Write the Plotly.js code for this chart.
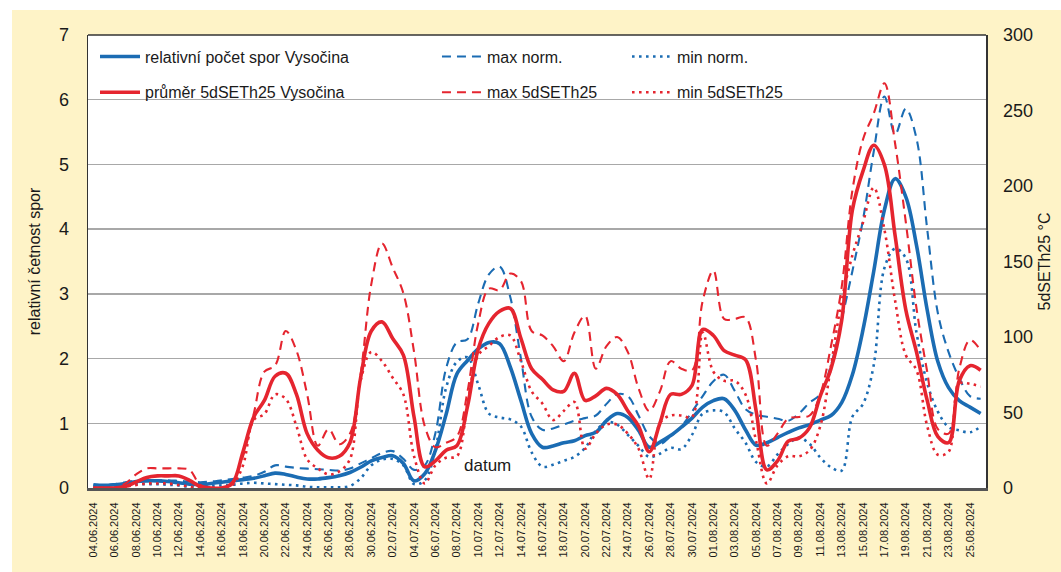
<!DOCTYPE html>
<html>
<head>
<meta charset="utf-8">
<script src="https://cdn.plot.ly/plotly-3.0.1.min.js"></script>
<style>
  html, body { margin: 0; padding: 0; background: #ffffff; }
  #chart { position: absolute; left: 12px; top: 10px; width: 1049px; height: 562px; }
</style>
</head>
<body>
<div id="chart"></div>
<script>
// Category axis: days
const dates = [
 "04.06.2024","05.06.2024","06.06.2024","07.06.2024","08.06.2024","09.06.2024","10.06.2024","11.06.2024","12.06.2024","13.06.2024",
 "14.06.2024","15.06.2024","16.06.2024","17.06.2024","18.06.2024","19.06.2024","20.06.2024","21.06.2024","22.06.2024","23.06.2024",
 "24.06.2024","25.06.2024","26.06.2024","27.06.2024","28.06.2024","29.06.2024","30.06.2024","01.07.2024","02.07.2024","03.07.2024",
 "04.07.2024","05.07.2024","06.07.2024","07.07.2024","08.07.2024","09.07.2024","10.07.2024","11.07.2024","12.07.2024","13.07.2024",
 "14.07.2024","15.07.2024","16.07.2024","17.07.2024","18.07.2024","19.07.2024","20.07.2024","21.07.2024","22.07.2024","23.07.2024",
 "24.07.2024","25.07.2024","26.07.2024","27.07.2024","28.07.2024","29.07.2024","30.07.2024","31.07.2024","01.08.2024","02.08.2024",
 "03.08.2024","04.08.2024","05.08.2024","06.08.2024","07.08.2024","08.08.2024","09.08.2024","10.08.2024","11.08.2024","12.08.2024",
 "13.08.2024","14.08.2024","15.08.2024","16.08.2024","17.08.2024","18.08.2024","19.08.2024","20.08.2024","21.08.2024","22.08.2024",
 "23.08.2024","24.08.2024","25.08.2024","26.08.2024"
];
const tickDates = dates.filter((d, i) => i % 2 === 0);

// Left axis: relative spore counts
const relPocetSpor = [
 0.05,0.04,0.05,0.07,0.10,0.11,0.11,0.10,0.08,0.06,0.05,0.07,0.09,0.11,0.13,0.15,0.19,0.23,0.21,0.17,0.14,0.14,0.16,0.19,0.24,0.32,0.42,0.47,0.50,0.38,
 0.11,0.22,0.58,1.14,1.76,1.97,2.15,2.25,2.23,1.87,1.35,0.84,0.63,0.65,0.70,0.73,0.81,0.86,1.04,1.15,1.09,0.89,0.63,0.71,0.81,0.94,1.08,1.25,1.35,1.38,
 1.20,0.90,0.66,0.70,0.78,0.86,0.93,0.98,1.05,1.12,1.32,1.75,2.45,3.35,4.30,4.78,4.50,3.75,2.75,1.95,1.55,1.35,1.25,1.15
];
const maxNorm = [
 0.04,0.04,0.06,0.09,0.11,0.12,0.12,0.12,0.11,0.10,0.09,0.10,0.12,0.14,0.16,0.19,0.25,0.35,0.33,0.31,0.30,0.29,0.28,0.27,0.30,0.38,0.46,0.54,0.57,0.45,
 0.28,0.35,0.85,1.85,2.25,2.30,2.85,3.30,3.42,2.95,2.00,1.10,0.90,0.92,0.98,1.04,1.08,1.12,1.30,1.45,1.42,1.12,0.80,0.68,0.80,0.95,1.18,1.42,1.65,1.75,
 1.50,1.22,1.13,1.10,1.07,1.04,1.15,1.32,1.45,1.90,2.60,3.35,4.15,5.20,6.05,5.47,5.86,5.40,4.00,2.70,2.10,1.70,1.42,1.38
];
const minNorm = [
 0.02,0.02,0.03,0.05,0.06,0.06,0.06,0.05,0.04,0.02,0.02,0.03,0.04,0.05,0.07,0.08,0.07,0.06,0.05,0.04,0.02,0.01,0.01,0.01,0.03,0.15,0.35,0.44,0.45,0.35,
 0.06,0.12,0.60,1.55,1.95,2.02,1.60,1.15,1.09,1.06,0.95,0.55,0.33,0.36,0.42,0.48,0.62,0.88,1.02,0.98,0.82,0.65,0.48,0.53,0.62,0.60,0.82,1.15,1.20,1.17,
 0.92,0.70,0.40,0.33,0.52,0.68,0.78,0.68,0.47,0.32,0.27,1.10,1.30,1.90,3.40,3.70,3.55,2.40,1.62,1.18,0.94,0.89,0.86,0.95
];

// Right axis: 5dSETh25 (°C)
const prumer5d = [
 0,0,0,1,4,7,8,8,8,5,1,0,0,3,24,47,58,74,76,62,36,25,20,21,30,73,104,110,99,88,
 47,14,18,25,28,54,92,109,117,119,99,79,72,65,64,76,58,61,66,62,51,41,24,43,62,62,68,105,101,91,
 88,85,51,12,18,31,33,40,61,79,111,184,210,227,214,167,118,90,58,34,30,71,81,78
];
const max5d = [
 0,0,0,3,9,13,13,13,13,12,2,0,0,4,21,49,77,81,104,91,62,28,39,29,36,75,135,162,146,129,
 90,41,27,30,34,64,109,132,131,142,137,104,101,94,84,103,114,79,94,100,90,66,51,64,84,79,78,124,144,112,
 112,113,84,28,36,46,47,48,62,94,133,197,231,248,268,228,176,119,77,39,36,79,98,91
];
const min5d = [
 0,0,0,1,2,3,3,3,2,1,0,0,0,2,15,45,49,62,59,41,19,13,9,11,19,71,90,84,73,62,
 21,3,15,20,21,56,88,94,100,101,84,64,56,45,51,57,26,36,42,42,36,26,6,43,48,48,47,103,77,71,
 71,62,31,3,15,21,21,25,41,81,124,154,176,199,171,124,88,78,41,22,24,69,69,67
];

const seriesNames = [
  "relativní počet spor Vysočina", "max norm.", "min norm.",
  "průměr 5dSETh25 Vysočina", "max 5dSETh25", "min 5dSETh25"
];

const BLUE = "#1b6cb3";
const RED = "#e5252f";
const DASH = "9px,6px";
const DOT = "2.6px,4.4px";

function tr(y, name, color, width, dash, yaxis, legend, group) {
  return {
    x: dates, y: y, name: name, type: "scatter", mode: "lines",
    yaxis: yaxis, legend: legend, legendgroup: group,
    line: { color: color, width: width, dash: dash, shape: "spline", smoothing: 1 },
    hoverinfo: "skip"
  };
}

const data = [
  tr(relPocetSpor, seriesNames[0], BLUE, 3.6, "solid", "y", "legend", "g1"),
  tr(maxNorm,      seriesNames[1], BLUE, 2.1, DASH,    "y", "legend2", "g2"),
  tr(minNorm,      seriesNames[2], BLUE, 2.6, DOT,     "y", "legend3", "g3"),
  tr(prumer5d,     seriesNames[3], RED,  3.6, "solid", "y2", "legend", "g4"),
  tr(max5d,        seriesNames[4], RED,  2.1, DASH,    "y2", "legend2", "g5"),
  tr(min5d,        seriesNames[5], RED,  2.6, DOT,     "y2", "legend3", "g6")
];

const FONT = "'Liberation Sans', Arial, sans-serif";
const legendBase = {
  orientation: "v", traceorder: "grouped", tracegroupgap: 12,
  bgcolor: "rgba(0,0,0,0)", borderwidth: 0, itemwidth: 40,
  font: { family: FONT, size: 16, color: "#1a1a1a" },
  xanchor: "left", yanchor: "top", y: 0.99
};

const layout = {
  width: 1049, height: 562,
  paper_bgcolor: "#fef3c7",
  plot_bgcolor: "#ffffff",
  margin: { l: 76, r: 75, t: 25, b: 84 },
  font: { family: FONT, color: "#1a1a1a" },
  showlegend: true,
  legend:  Object.assign({}, legendBase, { x: 0.0078 }),
  legend2: Object.assign({}, legendBase, { x: 0.3886 }),
  legend3: Object.assign({}, legendBase, { x: 0.6002 }),
  xaxis: {
    type: "category",
    range: [-0.5, dates.length - 0.5],
    tickmode: "array", tickvals: tickDates, ticktext: tickDates,
    tickangle: -90,
    tickfont: { family: "'Liberation Sans', Arial, sans-serif", size: 11, color: "#1a1a1a" },
    ticks: "", ticklabelstandoff: 7,
    showgrid: false, zeroline: false,
    showline: true, linecolor: "#555555", linewidth: 3
  },
  yaxis: {
    range: [0, 7], dtick: 1, tick0: 0,
    tickfont: { family: FONT, size: 18, color: "#1a1a1a" },
    ticks: "", ticklabelstandoff: 14,
    showgrid: true, gridcolor: "#a8a8a8", gridwidth: 1.5,
    zeroline: false,
    showline: true, linecolor: "#333333", linewidth: 1.5, mirror: true,
    title: { text: "relativní četnost spor", font: { family: FONT, size: 16, color: "#1a1a1a" }, standoff: 14 }
  },
  yaxis2: {
    overlaying: "y", side: "right",
    range: [0, 300], dtick: 50, tick0: 0,
    tickfont: { family: FONT, size: 18, color: "#1a1a1a" },
    ticks: "", ticklabelstandoff: 16,
    showgrid: false, zeroline: false, showline: false,
    title: { text: "5dSETh25 °C", font: { family: FONT, size: 16, color: "#1a1a1a" }, standoff: 6 }
  },
  shapes: [
    { type: "line", xref: "paper", yref: "paper", x0: 0, x1: 1, y0: 1, y1: 1,
      line: { color: "#333333", width: 1.5 } }
  ],
  annotations: [
    { text: "datum", xref: "paper", yref: "paper", x: 0.445, y: 0.049,
      showarrow: false, xanchor: "center", yanchor: "middle",
      font: { family: FONT, size: 17, color: "#1a1a1a" } }
  ]
};

Plotly.newPlot("chart", data, layout, { displayModeBar: false, staticPlot: true });
</script>
</body>
</html>
